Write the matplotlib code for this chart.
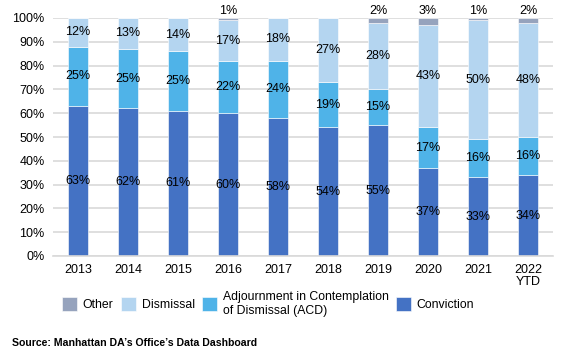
import numpy as np
import matplotlib.pyplot as plt

plt.rcParams['font.family'] = ['Liberation Sans', 'DejaVu Sans']

years = ["2013", "2014", "2015", "2016", "2017", "2018", "2019", "2020", "2021", "2022\nYTD"]
conviction = [63, 62, 61, 60, 58, 54, 55, 37, 33, 34]
acd = [25, 25, 25, 22, 24, 19, 15, 17, 16, 16]
dismissal = [12, 13, 14, 17, 18, 27, 28, 43, 50, 48]
other = [0, 0, 0, 1, 0, 0, 2, 3, 1, 2]

colConv = "#4472C4"
colAcd = "#4FB3E8"
colDis = "#B4D5F0"
colOth = "#96A3BD"

fig = plt.figure(figsize=(5.73, 3.64), dpi=100)
ax = fig.add_axes([53 / 573, 1 - 256 / 364, 500 / 573, 238 / 364])

x = np.arange(len(years))
w = 0.4
conv = np.array(conviction)
ac = np.array(acd)
dis = np.array(dismissal)
oth = np.array(other)

b1 = ax.bar(x, conv, w, color=colConv, edgecolor="white", linewidth=0.4, label="Conviction")
b2 = ax.bar(x, ac, w, bottom=conv, color=colAcd, edgecolor="white", linewidth=0.4,
            label="Adjournment in Contemplation\nof Dismissal (ACD)")
b3 = ax.bar(x, dis, w, bottom=conv + ac, color=colDis, edgecolor="white", linewidth=0.4, label="Dismissal")
b4 = ax.bar(x, oth, w, bottom=conv + ac + dis, color=colOth, edgecolor="white", linewidth=0.4, label="Other")

fs = 9
for i in range(len(years)):
    ax.text(x[i], conv[i] / 2, f"{conv[i]}%", ha="center", va="center", fontsize=fs)
    ax.text(x[i], conv[i] + ac[i] / 2, f"{ac[i]}%", ha="center", va="center", fontsize=fs)
    ax.text(x[i], conv[i] + ac[i] + dis[i] / 2, f"{dis[i]}%", ha="center", va="center", fontsize=fs)
    if oth[i] > 0:
        ax.text(x[i], 100.3, f"{oth[i]}%", ha="center", va="bottom", fontsize=fs)

ax.set_xlim(-0.5, len(years) - 0.5)
ax.set_ylim(0, 100)
ax.set_yticks(np.arange(0, 101, 10))
ax.set_yticklabels([f"{v}%" for v in range(0, 101, 10)], fontsize=fs)
ax.set_xticks(x)
ax.set_xticklabels(years, fontsize=fs, linespacing=1.0)
ax.tick_params(length=0, pad=6)
ax.grid(axis="y", color="#D9D9D9", linewidth=1.2)
ax.set_axisbelow(True)
for s in ["top", "right", "left"]:
    ax.spines[s].set_visible(False)
ax.spines["bottom"].set_color("#D9D9D9")
ax.spines["bottom"].set_linewidth(1.2)

fig.legend(handles=[b4, b3, b2, b1], loc="center", bbox_to_anchor=(0.468, 1 - 304 / 364), ncol=4,
           frameon=False, fontsize=8.8, handlelength=1.25, handleheight=1.4, handletextpad=0.45,
           columnspacing=0.6)

fig.text(12 / 573, 1 - 343 / 364, "Source: Manhattan DA\u2019s Office\u2019s Data Dashboard",
         fontsize=7.6, fontweight="bold", va="center", ha="left")

fig.savefig("out.png", dpi=100)
